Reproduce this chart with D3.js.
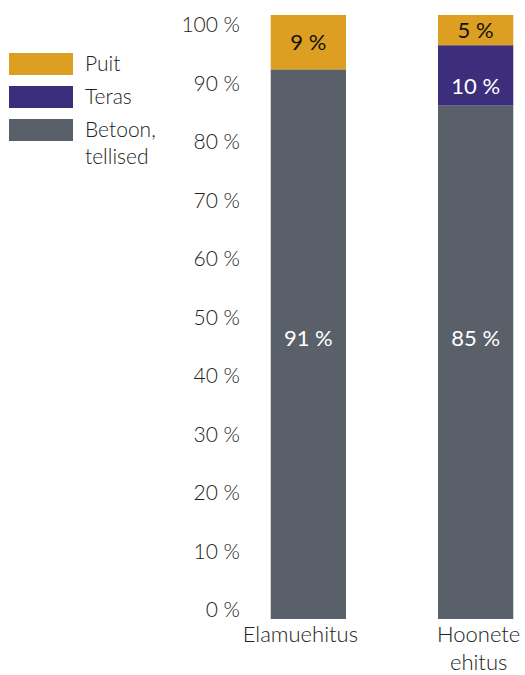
<!DOCTYPE html>
<html>
<head>
<meta charset="utf-8">
<script src="https://cdn.jsdelivr.net/npm/d3@7"></script>
<style>
  body { margin: 0; background: #fff; }
  text { font-family: Lato, "Open Sans", sans-serif; font-weight: 300; }
</style>
</head>
<body>
<div id="chart"></div>
<script>
// data
var categories = [["Elamuehitus"], ["Hoonete", "ehitus"]];
var seriesNames = ["Betoon, tellised", "Teras", "Puit"];
var betoon = [91, 85];
var teras = [0, 10];
var puit = [9, 5];
var yTicks = [0, 10, 20, 30, 40, 50, 60, 70, 80, 90, 100];

var colors = {"Puit": "#dd9f22", "Teras": "#3c2e7a", "Betoon, tellised": "#59606a"};
var labelColors = {"Puit": "#111", "Teras": "#fff", "Betoon, tellised": "#fff"};

var width = 525, height = 675;

var svg = d3.select("#chart").append("svg")
    .attr("width", width)
    .attr("height", height);

var x = d3.scaleBand().domain([0, 1]).range([254, 530]).paddingInner(0.55).paddingOuter(0.1);
var y = d3.scaleLinear().domain([0, 100]).range([619, 15]);
// tick labels sit a little inside the plot range
var yLab = d3.scaleLinear().domain([0, 100]).range([610, 25]);

var yAxis = d3.axisLeft(yLab).tickValues(yTicks).tickFormat(d => d + " %").tickSize(0).tickPadding(0);
var ax = svg.append("g")
    .attr("transform", "translate(240,0)")
    .call(yAxis);
ax.select(".domain").remove();
ax.selectAll("text")
    .style("font-size", "21px")
    .style("font-family", "Lato, 'Open Sans', sans-serif")
    .style("font-weight", 300)
    .attr("fill", "#222");

// stacked data
var rows = categories.map(function(c, i) {
    return {i: i, "Betoon, tellised": betoon[i], "Teras": teras[i], "Puit": puit[i]};
});
var stack = d3.stack().keys(seriesNames)(rows);

var layers = svg.selectAll(".layer")
    .data(stack)
    .enter().append("g")
    .attr("class", "layer")
    .attr("fill", d => colors[d.key]);

layers.selectAll("rect")
    .data(d => d.filter(p => p[1] - p[0] > 0))
    .enter().append("rect")
    .attr("x", d => x(d.data.i))
    .attr("width", x.bandwidth())
    .attr("y", d => y(d[1]))
    .attr("height", d => y(d[0]) - y(d[1]));

// value labels; the base series labels share one height like the original
stack.forEach(function(layer) {
    layer.forEach(function(p) {
        var v = p[1] - p[0];
        if (v <= 0) return;
        var ly = (y(p[0]) + y(p[1])) / 2;
        if (layer.key == "Betoon, tellised") ly = y(46.5);
        if (layer.key == "Teras") ly += 11;
        svg.append("text")
            .attr("x", x(p.data.i) + x.bandwidth() / 2)
            .attr("y", ly)
            .attr("dy", "0.35em")
            .attr("text-anchor", "middle")
            .style("font-size", "22px")
            .style("font-weight", 400)
            .attr("fill", labelColors[layer.key])
            .text(v + " %");
    });
});

// category labels
categories.forEach(function(lines, i) {
    var cx = x(i) + x.bandwidth() / 2 + (i == 0 ? -8 : 3);
    var t = svg.append("text")
        .attr("x", cx)
        .attr("y", 642)
        .attr("text-anchor", "middle")
        .style("font-size", "22px")
        .attr("fill", "#222");
    lines.forEach(function(l, j) {
        t.append("tspan")
            .attr("x", cx)
            .attr("dy", j == 0 ? 0 : 28)
            .text(l);
    });
});

// legend
var legendItems = ["Puit", "Teras", "Betoon, tellised"];
var legend = svg.append("g").attr("transform", "translate(9,53)");
legendItems.forEach(function(name, i) {
    var g = legend.append("g").attr("transform", `translate(0, ${i * 33})`);
    g.append("rect")
        .attr("width", 64)
        .attr("height", 22)
        .attr("fill", colors[name]);
    var parts = name == "Betoon, tellised" ? ["Betoon,", "tellised"] : [name];
    var t = g.append("text")
        .attr("x", 76)
        .attr("y", 11)
        .attr("dy", "0.35em")
        .style("font-size", "21px")
        .attr("fill", "#222");
    parts.forEach(function(p, j) {
        t.append("tspan").attr("x", 76).attr("dy", j == 0 ? "0.35em" : 27).text(p);
    });
});
</script>
</body>
</html>
